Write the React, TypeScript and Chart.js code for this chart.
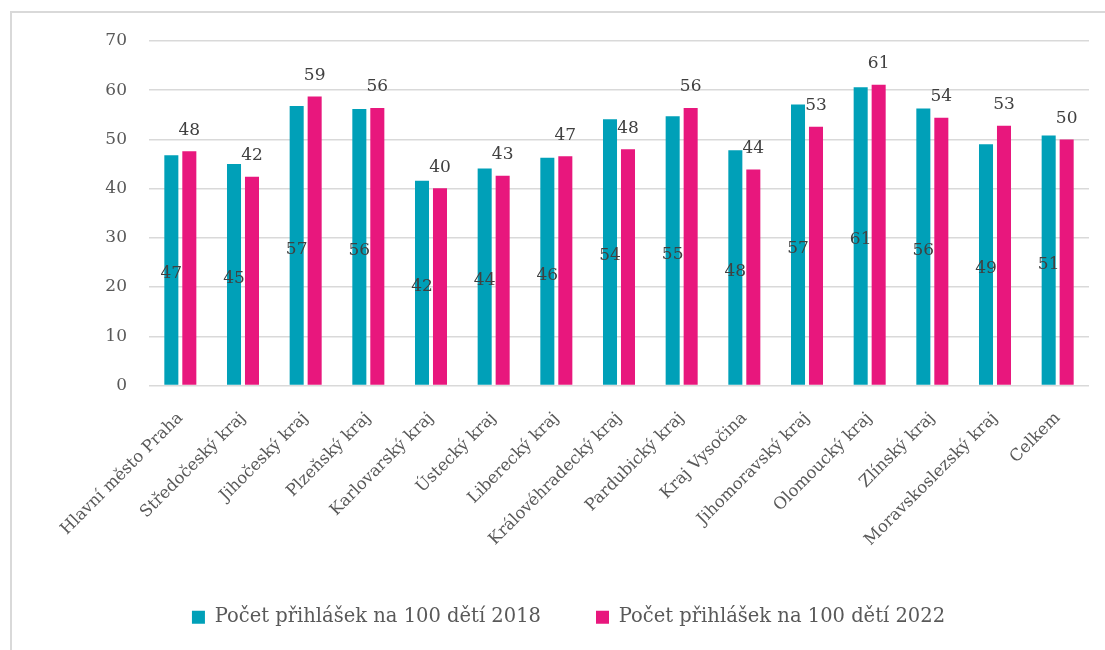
import React, { useEffect, useRef } from "react";
import { Chart, registerables } from "chart.js";

Chart.register(...registerables);

const categories = [
  "Hlavní město Praha",
  "Středočeský kraj",
  "Jihočeský kraj",
  "Plzeňský kraj",
  "Karlovarský kraj",
  "Ústecký kraj",
  "Liberecký kraj",
  "Královéhradecký kraj",
  "Pardubický kraj",
  "Kraj Vysočina",
  "Jihomoravský kraj",
  "Olomoucký kraj",
  "Zlínský kraj",
  "Moravskoslezský kraj",
  "Celkem",
];

const values2018 = [46.8, 45.0, 56.8, 56.2, 41.6, 44.1, 46.3, 54.1, 54.7, 47.8, 57.1, 60.6, 56.3, 49.0, 50.8];
const values2022 = [47.6, 42.4, 58.7, 56.4, 40.1, 42.6, 46.6, 48.0, 56.4, 43.9, 52.6, 61.1, 54.4, 52.8, 50.0];

const seriesNames = ["Počet přihlášek na 100 dětí 2018", "Počet přihlášek na 100 dětí 2022"];
const yTicks = [0, 10, 20, 30, 40, 50, 60, 70];

const FONT = "'DejaVu Serif', serif";
const TEAL = "#00A0B8";
const MAGENTA = "#E8177D";

const framePlugin = {
  id: "frame",
  beforeDraw(chart: any) {
    const ctx = chart.ctx;
    ctx.save();
    ctx.strokeStyle = "#d9d9d9";
    ctx.lineWidth = 2;
    ctx.strokeRect(11, 12, 1300, 1000);
    ctx.restore();
  },
};

const labelPlugin = {
  id: "valueLabels",
  afterDatasetsDraw(chart: any) {
    const ctx = chart.ctx;
    ctx.save();
    ctx.font = `17px ${FONT}`;
    ctx.fillStyle = "#404040";
    ctx.textAlign = "center";
    ctx.textBaseline = "middle";
    chart.data.datasets.forEach((ds: any, di: number) => {
      const meta = chart.getDatasetMeta(di);
      meta.data.forEach((bar: any, i: number) => {
        const v = Math.round(ds.data[i]);
        if (di === 0) {
          ctx.fillText(String(v), bar.x, (bar.y + bar.base) / 2 + 4);
        } else {
          ctx.fillText(String(v), bar.x, bar.y - 21);
        }
      });
    });
    ctx.restore();
  },
};

export default function App() {
  const ref = useRef<HTMLCanvasElement | null>(null);
  useEffect(() => {
    if (!ref.current) return;
    const chart = new Chart(ref.current, {
      type: "bar",
      data: {
        labels: categories,
        datasets: [
          {
            label: seriesNames[0],
            data: values2018,
            backgroundColor: TEAL,
            categoryPercentage: 0.574,
            barPercentage: 0.78,
          },
          {
            label: seriesNames[1],
            data: values2022,
            backgroundColor: MAGENTA,
            categoryPercentage: 0.574,
            barPercentage: 0.78,
          },
        ],
      },
      options: {
        animation: false,
        responsive: false,
        layout: { padding: { left: 48, right: 16, top: 41, bottom: 13 } },
        plugins: {
          tooltip: { enabled: false },
          legend: {
            position: "bottom",
            labels: {
              boxWidth: 13,
              boxHeight: 13,
              padding: 55,
              color: "#595959",
              font: { family: FONT, size: 19.5 },
            },
          },
        },
        scales: {
          x: {
            grid: { display: false },
            border: { display: false },
            ticks: {
              minRotation: 45,
              maxRotation: 45,
              autoSkip: false,
              padding: 15,
              color: "#595959",
              font: { family: FONT, size: 16.5 },
            },
            afterFit(scale: any) {
              scale.height = 167;
            },
          },
          y: {
            min: 0,
            max: 70,
            afterBuildTicks(scale: any) {
              scale.ticks = yTicks.map((v) => ({ value: v }));
            },
            grid: { color: "#d9d9d9", lineWidth: 1.5, drawTicks: false },
            border: { display: false },
            ticks: {
              padding: 22,
              color: "#595959",
              font: { family: FONT, size: 17 },
            },
            afterFit(scale: any) {
              scale.width = 101;
            },
          },
        },
      },
      plugins: [framePlugin, labelPlugin],
    });
    return () => chart.destroy();
  }, []);
  return (
    <canvas
      ref={ref}
      width={1105}
      height={650}
      style={{ position: "fixed", left: 0, top: 0, width: 1105, height: 650 }}
    />
  );
}
